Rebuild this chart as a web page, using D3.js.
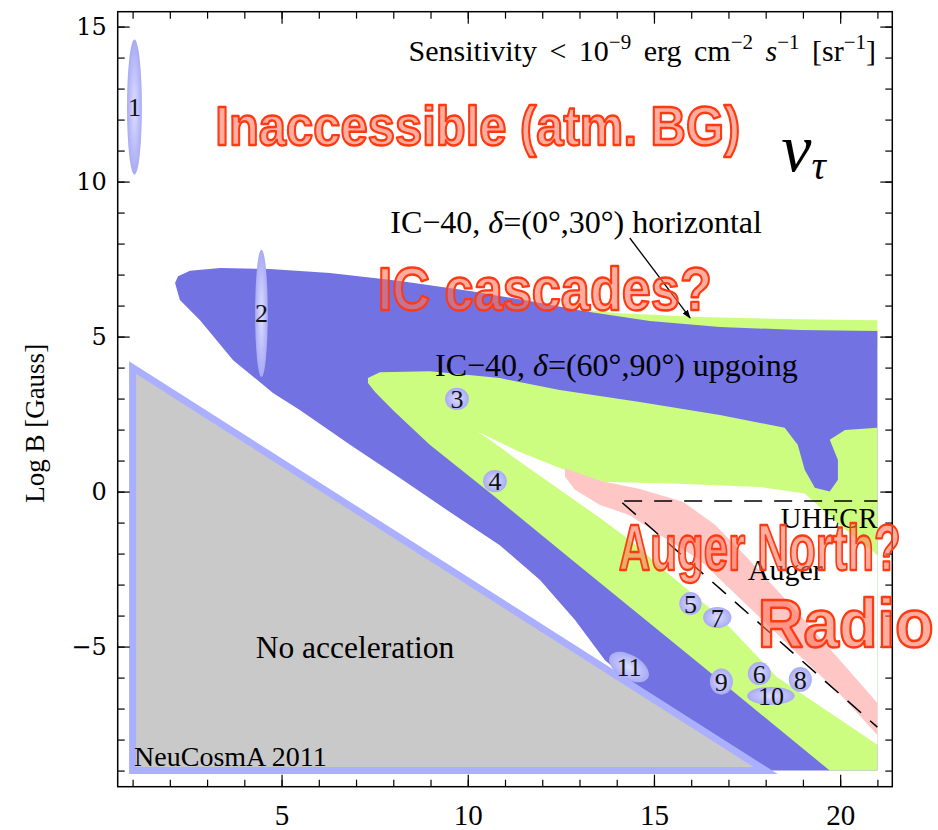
<!DOCTYPE html>
<html>
<head>
<meta charset="utf-8">
<script src="https://cdn.jsdelivr.net/npm/d3@7"></script>
<style>
  body { margin: 0; background: #fff; }
  .tick text { font-family: 'Liberation Serif', 'Times New Roman', serif; }
</style>
</head>
<body>
<div id="chart"></div>
<script>
// axis ranges: log R [km] (x) and log B [Gauss] (y)
const xDomain = [0.6, 21.4];
const yDomain = [-9.52, 15.48];
const xMajor = [5, 10, 15, 20];
const yMajor = [-5, 0, 5, 10, 15];
const xMinor = d3.range(1, 22);
const yMinor = d3.range(-9, 16);

// no acceleration triangle
const noAccel = [[1, 4], [1, -9], [18, -9]];

// IC-40 horizontal (thin strip above the upgoing region)
const icHorizontalStrip = [[12.47, 5.95], [14.08, 5.75], [16.23, 5.63], [18.92, 5.56], [21, 5.53], [21, 4.7], [12.47, 4.7]];

// IC-40 upgoing region (outer contour)
const icUpgoing = [
  [2.14, 6.73], [2.22, 6.95], [2.54, 7.12], [3.35, 7.21], [4.69, 7.18], [6.30, 7.05], [8.18, 6.79],
  [10.06, 6.47], [11.66, 6.15], [13.14, 5.82], [14.89, 5.50], [16.77, 5.31], [18.92, 5.21], [21, 5.18],
  [21, -9], [13.0, -9], [14.22, -6.0], [13.68, -5.43], [12.88, -4.14], [11.94, -2.85], [10.86, -1.73],
  [9.52, -0.66], [8.18, 0.44], [6.84, 1.51], [5.49, 2.63], [4.77, 3.18], [3.70, 4.24], [2.81, 5.53], [2.27, 6.18]
];

// IC-40 horizontal (inner tongue)
const icHorizontalBand = [
  [7.32, 3.66], [7.64, 3.85], [8.98, 3.88], [10.86, 3.66], [12.47, 3.28], [14.62, 2.89], [16.77, 2.47],
  [18.51, 2.06], [18.86, 1.51], [19.05, 0.70], [19.32, 0.12], [19.72, 0.0], [19.94, 0.38], [19.94, 1.02],
  [19.72, 1.67], [20.13, 1.99], [21, 2.06], [21, -9], [19.72, -9], [16.23, -5.56], [12.80, -2.21],
  [10.73, -0.17], [8.98, 1.51], [8.05, 2.56], [7.51, 3.21], [7.32, 3.50]
];

// not covered (white tongue inside the band)
const gapRegion = [
  [10.27, 1.93], [11.40, 1.28], [12.47, 0.76], [13.55, 0.32], [15.70, 0.25], [17.84, 0.15], [19.05, -0.06],
  [19.99, -1.08], [21, -2.05], [21, -8.17], [18.30, -5.98], [16.72, -3.98], [15.43, -2.69], [14.35, -1.56],
  [13.55, -0.85], [12.47, 0.06], [11.40, 0.96], [10.59, 1.67]
];

// Auger region
const augerRegion = [
  [12.61, 0.75], [13.55, 0.35], [14.62, 0.08], [15.78, -0.33], [16.64, -1.07], [17.44, -2.05], [18.92, -3.98],
  [19.99, -5.43], [21, -6.82], [21, -7.85], [19.99, -6.53], [18.92, -5.30], [17.57, -3.75], [16.23, -2.21],
  [15.16, -1.40], [14.35, -0.76], [13.55, -0.43], [12.88, 0.06], [12.61, 0.48]
];

const uhecrLine = [[14.2, -0.3], [21, -0.3]];
const augerLine = [[14.15, -0.36], [21, -7.6]];
const arrowLine = [[14.35, 8.18], [15.97, 5.6]];

// source classes: id, centre (logR, logB), half ranges, tilt (deg)
const sourceIds = ["1", "2", "3", "4", "5", "6", "7", "8", "9", "10", "11"];
const sourceX = [1.05, 4.46, 9.71, 10.73, 15.98, 17.83, 16.70, 18.93, 16.81, 18.14, 14.33];
const sourceY = [12.4, 5.75, 2.99, 0.34, -3.61, -5.87, -4.06, -6.06, -6.13, -6.59, -5.66];
const sourceDX = [0.2, 0.17, 0.32, 0.32, 0.3, 0.31, 0.38, 0.31, 0.31, 0.64, 0.59];
const sourceDY = [2.18, 2.05, 0.36, 0.36, 0.37, 0.37, 0.34, 0.4, 0.42, 0.29, 0.39];
const sourceTilt = [0, 0, 0, 0, 0, 0, 0, 0, 0, 0, 30];

const W = 938, H = 830;
const mLeft = 117.7, mRight = 892.3, mTop = 11.7, mBottom = 786.7;
const serif = "'Liberation Serif', 'Times New Roman', serif";

const x = d3.scaleLinear().domain(xDomain).range([mLeft, mRight]);
const y = d3.scaleLinear().domain(yDomain).range([mBottom, mTop]);

const svg = d3.select("#chart").append("svg")
  .attr("width", W).attr("height", H)
  .style("font-family", serif);

const defs = svg.append("defs");
const grad = defs.append("radialGradient").attr("id", "srcGrad");
grad.append("stop").attr("offset", "0%").attr("stop-color", "#dcdeff");
grad.append("stop").attr("offset", "55%").attr("stop-color", "#bfc1fb");
grad.append("stop").attr("offset", "100%").attr("stop-color", "#a9abf4");
defs.append("marker").attr("id", "arrow")
  .attr("viewBox", "0 0 10 10").attr("refX", 9).attr("refY", 5)
  .attr("markerWidth", 9).attr("markerHeight", 9).attr("orient", "auto")
  .attr("markerUnits", "userSpaceOnUse")
  .append("path").attr("d", "M0,1.5L10,5L0,8.5Z").attr("fill", "#000");

const area = d3.line().x(d => x(d[0])).y(d => y(d[1])).curve(d3.curveLinearClosed);
const line = d3.line().x(d => x(d[0])).y(d => y(d[1]));

// regions
svg.append("path").attr("d", area(icHorizontalStrip)).attr("fill", "#ccfd80");
svg.append("path").attr("d", area(icUpgoing)).attr("fill", "#7272e2");
svg.append("path").attr("d", area(icHorizontalBand)).attr("fill", "#ccfd80");
svg.append("path").attr("d", area(gapRegion)).attr("fill", "#ffffff");
svg.append("path").attr("d", area(augerRegion)).attr("fill", "#ffc6c6");
svg.append("path").attr("d", area(noAccel))
  .attr("fill", "#c9c9c9").attr("stroke", "#aab0ff").attr("stroke-width", 7)
  .attr("stroke-linejoin", "miter");

// dashed limits
svg.append("path").attr("d", line(uhecrLine)).attr("fill", "none")
  .attr("stroke", "#000").attr("stroke-width", 1.5).attr("stroke-dasharray", "18,12");
svg.append("path").attr("d", line(augerLine)).attr("fill", "none")
  .attr("stroke", "#000").attr("stroke-width", 1.5).attr("stroke-dasharray", "18,12");

// sources
const src = svg.append("g").selectAll("g")
  .data(sourceIds.map((id, i) => ({ id, x: sourceX[i], y: sourceY[i], dx: sourceDX[i], dy: sourceDY[i], t: sourceTilt[i] })))
  .join("g")
  .attr("transform", d => `translate(${x(d.x)},${y(d.y)})`);
src.append("ellipse")
  .attr("rx", d => x(d.x + d.dx) - x(d.x))
  .attr("ry", d => y(d.y - d.dy) - y(d.y))
  .attr("transform", d => `rotate(${d.t})`)
  .attr("fill", "url(#srcGrad)");
src.append("text")
  .attr("text-anchor", "middle").attr("dy", "0.35em")
  .attr("font-size", 26).attr("fill", "#111")
  .text(d => d.id);

// frame and ticks
const tickAxis = (axisFn, vals, size, pos, labels) => {
  const a = axisFn.tickValues(vals).tickSize(size);
  if (!labels) a.tickFormat("");
  const g = svg.append("g").attr("transform", pos).call(a);
  g.select(".domain").remove();
  g.selectAll(".tick line").attr("stroke", "#000").attr("stroke-width", 1.2);
  return g;
};
tickAxis(d3.axisBottom(x), xMinor, -7, `translate(0,${mBottom})`);
tickAxis(d3.axisTop(x), xMinor, -7, `translate(0,${mTop})`);
tickAxis(d3.axisTop(x), xMajor, -12, `translate(0,${mTop})`);
tickAxis(d3.axisLeft(y), yMinor, -7, `translate(${mLeft},0)`);
tickAxis(d3.axisRight(y), yMinor, -7, `translate(${mRight},0)`);
tickAxis(d3.axisRight(y), yMajor, -12, `translate(${mRight},0)`);

const xb = tickAxis(d3.axisBottom(x).tickPadding(18), xMajor, -12, `translate(0,${mBottom})`, true);
xb.attr("font-family", null);
xb.selectAll("text").attr("font-size", 29).attr("fill", "#000");
const yl = tickAxis(d3.axisLeft(y).tickPadding(11), yMajor, -12, `translate(${mLeft},0)`, true);
yl.attr("font-family", null);
yl.selectAll("text").style("font-family", "'DejaVu Serif', serif").attr("font-size", 24).attr("fill", "#000");

svg.append("rect").attr("x", mLeft).attr("y", mTop)
  .attr("width", mRight - mLeft).attr("height", mBottom - mTop)
  .attr("fill", "none").attr("stroke", "#000").attr("stroke-width", 1.5);

// axis title
svg.append("text")
  .attr("transform", `translate(44,${y(2.2)}) rotate(-90)`)
  .attr("text-anchor", "middle").attr("font-size", 27)
  .text("Log B [Gauss]");

// sensitivity label
const sens = svg.append("text").attr("x", 876).attr("y", 61)
  .attr("text-anchor", "end").attr("font-size", 30).attr("word-spacing", 5);
sens.append("tspan").text("Sensitivity < 10");
sens.append("tspan").attr("dy", -12).attr("font-size", 21).text("−9");
sens.append("tspan").attr("dy", 12).text(" erg cm");
sens.append("tspan").attr("dy", -12).attr("font-size", 21).text("−2");
sens.append("tspan").attr("dy", 12).attr("font-style", "italic").text(" s");
sens.append("tspan").attr("dy", -12).attr("font-size", 21).text("−1");
sens.append("tspan").attr("dy", 12).text(" [sr");
sens.append("tspan").attr("dy", -12).attr("font-size", 21).text("−1");
sens.append("tspan").attr("dy", 12).text("]");

// nu_tau
const nu = svg.append("text").attr("x", x(18.42)).attr("y", y(10.35)).attr("font-style", "italic");
nu.append("tspan").attr("font-size", 68).text("ν");
nu.append("tspan").attr("font-size", 40).attr("dy", 8).text("τ");

// region labels
const lab1 = svg.append("text").attr("x", x(7.92)).attr("y", y(8.34)).attr("font-size", 32);
lab1.append("tspan").text("IC−40, ");
lab1.append("tspan").attr("font-style", "italic").text("δ");
lab1.append("tspan").text("=(0°,30°) horizontal");

const lab2 = svg.append("text").attr("x", x(9.12)).attr("y", y(3.72)).attr("font-size", 32);
lab2.append("tspan").text("IC−40, ");
lab2.append("tspan").attr("font-style", "italic").text("δ");
lab2.append("tspan").text("=(60°,90°) upgoing");

svg.append("path").attr("d", line(arrowLine)).attr("stroke", "#000")
  .attr("stroke-width", 1.3).attr("fill", "none").attr("marker-end", "url(#arrow)");

svg.append("text").attr("x", x(21)).attr("y", y(-1.18)).attr("text-anchor", "end")
  .attr("font-size", 28.5).text("UHECR");
svg.append("text").attr("x", x(17.52)).attr("y", y(-2.85)).attr("font-size", 30).text("Auger");
svg.append("text").attr("x", x(6.97)).attr("y", y(-5.37)).attr("text-anchor", "middle")
  .attr("font-size", 31.5).text("No acceleration");
svg.append("text").attr("x", x(1.04)).attr("y", y(-8.85)).attr("font-size", 28).text("NeuCosmA 2011");

// overlaid outline annotations
const overlays = [
  { t: "Inaccessible (atm. BG)", cx: 10.27, base: 11.18, size: 56, w: 525 },
  { t: "IC cascades?", cx: 12.07, base: 5.85, size: 62, w: 334 },
  { t: "Auger North?", cx: 17.84, base: -2.53, size: 64, w: 282 },
  { t: "Radio", cx: 20.15, base: -5.01, size: 68, w: 176 }
];
svg.append("g").selectAll("text").data(overlays).join("text")
  .attr("x", d => x(d.cx)).attr("y", d => y(d.base))
  .attr("text-anchor", "middle")
  .attr("font-family", "'Liberation Sans', Arial, sans-serif")
  .attr("font-weight", "bold")
  .attr("font-size", d => d.size)
  .attr("textLength", d => d.w).attr("lengthAdjust", "spacingAndGlyphs")
  .attr("fill", "rgba(255,115,90,0.58)")
  .attr("stroke", "#ff3a12").attr("stroke-width", 2.4).attr("stroke-linejoin", "round")
  .text(d => d.t);
</script>
</body>
</html>
